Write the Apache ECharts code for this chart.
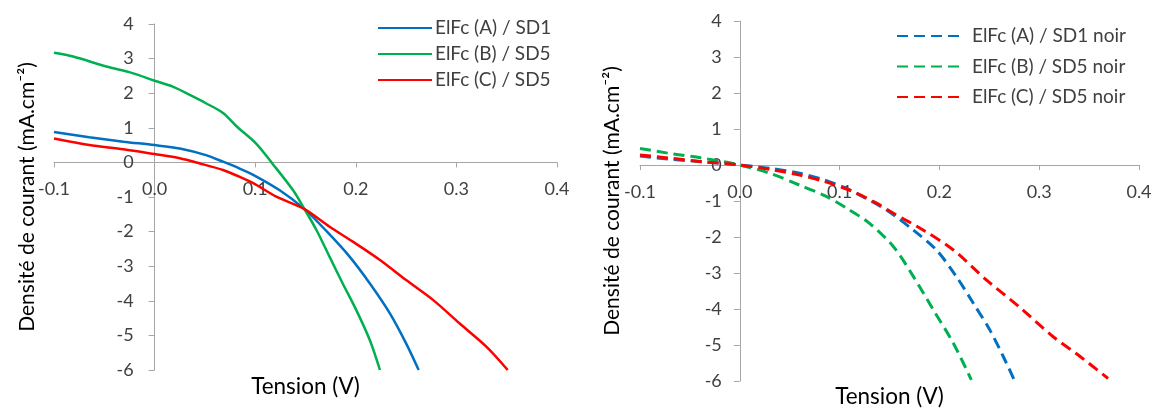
<!DOCTYPE html>
<html>
<head>
<meta charset="utf-8">
<script src="https://cdn.jsdelivr.net/npm/echarts@6/dist/echarts.min.js"></script>
<style>
html,body{margin:0;padding:0;background:#fff;}
#c{width:1156px;height:410px;}
</style>
</head>
<body>
<div id="c"></div>
<script>
// ---- data (Tension V, Densité de courant mA.cm-2) ----
const xTicks = ['-0.1','0.0','0.1','0.2','0.3','0.4'];
const yTicks = ['-6','-5','-4','-3','-2','-1','0','1','2','3','4'];

const namesLight = ['ElFc (A) / SD1','ElFc (B) / SD5','ElFc (C) / SD5'];
const namesDark = ['ElFc (A) / SD1 noir','ElFc (B) / SD5 noir','ElFc (C) / SD5 noir'];

const vA = [-0.1,-0.065,-0.031,0,0.025,0.051,0.068,0.084,0.098,0.124,0.149,0.170,0.194,0.214,0.234,0.250,0.2625];
const jA = [0.88,0.73,0.60,0.50,0.40,0.21,0.02,-0.17,-0.36,-0.80,-1.35,-1.96,-2.73,-3.50,-4.37,-5.23,-6.0];

const vB = [-0.1,-0.081,-0.048,-0.022,0,0.018,0.035,0.051,0.068,0.082,0.1007,0.117,0.1375,0.149,0.161,0.174,0.187,0.2005,0.214,0.224];
const jB = [3.17,3.06,2.77,2.58,2.36,2.19,1.95,1.71,1.43,1.03,0.55,-0.03,-0.80,-1.35,-1.96,-2.73,-3.50,-4.27,-5.14,-6.0];

const vC = [-0.1,-0.065,-0.031,0,0.025,0.045,0.068,0.084,0.098,0.121,0.149,0.174,0.197,0.224,0.250,0.277,0.303,0.330,0.351];
const jC = [0.69,0.50,0.38,0.24,0.12,-0.03,-0.22,-0.41,-0.60,-0.99,-1.35,-1.86,-2.29,-2.82,-3.40,-3.98,-4.65,-5.33,-6.0];

const vAn = [-0.1,-0.07,-0.037,0,0.03,0.06,0.085,0.107,0.117,0.147,0.174,0.197,0.217,0.234,0.2505,0.264,0.2755];
const jAn = [0.25,0.16,0.09,0,-0.09,-0.23,-0.42,-0.65,-0.79,-1.25,-1.81,-2.36,-3.10,-3.84,-4.58,-5.32,-6.0];

const vBn = [-0.1,-0.07,-0.037,0,0.03,0.06,0.085,0.107,0.130,0.154,0.174,0.194,0.214,0.232];
const jBn = [0.46,0.32,0.19,0,-0.23,-0.56,-0.85,-1.20,-1.62,-2.27,-3.10,-4.03,-4.95,-5.97];

const vCn = [-0.1,-0.07,-0.037,0,0.03,0.06,0.085,0.1135,0.137,0.154,0.184,0.214,0.247,0.280,0.314,0.341,0.369];
const jCn = [0.28,0.19,0.09,0,-0.12,-0.28,-0.46,-0.74,-1.06,-1.34,-1.81,-2.36,-3.19,-3.94,-4.77,-5.32,-5.93];

const colors = ['#0070C0','#00B050','#FF0000'];

// ---- layout ----
const W = 1156, H = 410;
const grids = [
  {l: 54, r: 557, t: 24, b: 370},
  {l: 640, r: 1139, t: 21, b: 381}
];
const xMin = Number(xTicks[0]), xMax = Number(xTicks[xTicks.length-1]);
const yMin = Number(yTicks[0]), yMax = Number(yTicks[yTicks.length-1]);

const pairs = (xs, ys) => xs.map((x, i) => [x, ys[i]]);
const FONT = 'Lato';
const txt = '#404040';
const axisGrey = '#A6A6A6';

function xAxisFor(g, gap) {
  const G = grids[g];
  // place axis at y = 0
  const off = -((0 - yMin) / (yMax - yMin)) * (G.b - G.t);
  return {
    type: 'value', gridIndex: g, position: 'bottom', offset: off,
    min: xMin, max: xMax, interval: 0.1,
    name: 'Tension (V)', nameLocation: 'middle', nameGap: gap,
    nameTextStyle: {fontFamily: FONT, fontSize: 22.5, color: '#000'},
    axisLine: {onZero: false, lineStyle: {color: axisGrey, width: 1}},
    axisTick: {show: true, length: 5, lineStyle: {color: axisGrey}},
    splitLine: {show: false},
    axisLabel: {fontFamily: FONT, fontSize: 18, color: txt, margin: 18,
      formatter: v => xTicks.find(t => Math.abs(Number(t) - v) < 1e-6) || ''}
  };
}
function yAxisFor(g, gap, margin) {
  const G = grids[g];
  // place axis at x = 0
  const off = -((0 - xMin) / (xMax - xMin)) * (G.r - G.l);
  return {
    type: 'value', gridIndex: g, position: 'left', offset: off,
    min: yMin, max: yMax, interval: 1,
    name: 'Densité de courant (mA.cm\u207B\u00B2)', nameLocation: 'middle', nameGap: gap,
    nameTextStyle: {fontFamily: FONT, fontSize: 21, color: '#000'},
    axisLine: {onZero: false, lineStyle: {color: axisGrey, width: 1}},
    axisTick: {show: true, length: 6, lineStyle: {color: axisGrey}},
    splitLine: {show: false},
    axisLabel: {fontFamily: FONT, fontSize: 18, color: txt, margin: margin,
      formatter: v => yTicks.find(t => Math.abs(Number(t) - v) < 1e-6) || ''}
  };
}
function line(name, data, color, g, dashed) {
  return {
    name, type: 'line', xAxisIndex: g, yAxisIndex: g, data,
    smooth: 0.3, showSymbol: false, symbol: 'none', clip: true,
    color,
    lineStyle: dashed ? {color, width: 3, type: [11, 6], cap: 'butt'} : {color, width: 2.5}
  };
}

const chart = echarts.init(document.getElementById('c'), null, {renderer: 'canvas'});
chart.setOption({
  backgroundColor: '#fff',
  animation: false,
  grid: grids.map(G => ({left: G.l, right: W - G.r, top: G.t, bottom: H - G.b, outerBoundsMode: 'none', containLabel: false})),
  xAxis: [xAxisFor(0, 213), xAxisFor(1, 220)],
  yAxis: [yAxisFor(0, 117, 21), yAxisFor(1, 117, 18)],
  legend: [
    {data: namesLight, orient: 'vertical', left: 377, top: 18, padding: 0, itemWidth: 54, itemHeight: 14, itemGap: 6,
     itemStyle: {opacity: 0},
     textStyle: {fontFamily: FONT, fontSize: 19, color: txt, lineHeight: 20, padding: [0,0,0,-2]}},
    {data: namesDark, orient: 'vertical', left: 896, top: 26, padding: 0, itemWidth: 64, itemHeight: 14, itemGap: 10.5,
     itemStyle: {opacity: 0},
     textStyle: {fontFamily: FONT, fontSize: 19, color: txt, lineHeight: 20, padding: [0,0,0,6]}}
  ],
  series: [
    line(namesLight[0], pairs(vA, jA), colors[0], 0, false),
    line(namesLight[1], pairs(vB, jB), colors[1], 0, false),
    line(namesLight[2], pairs(vC, jC), colors[2], 0, false),
    line(namesDark[0], pairs(vAn, jAn), colors[0], 1, true),
    line(namesDark[1], pairs(vBn, jBn), colors[1], 1, true),
    line(namesDark[2], pairs(vCn, jCn), colors[2], 1, true)
  ]
});
</script>
</body>
</html>
